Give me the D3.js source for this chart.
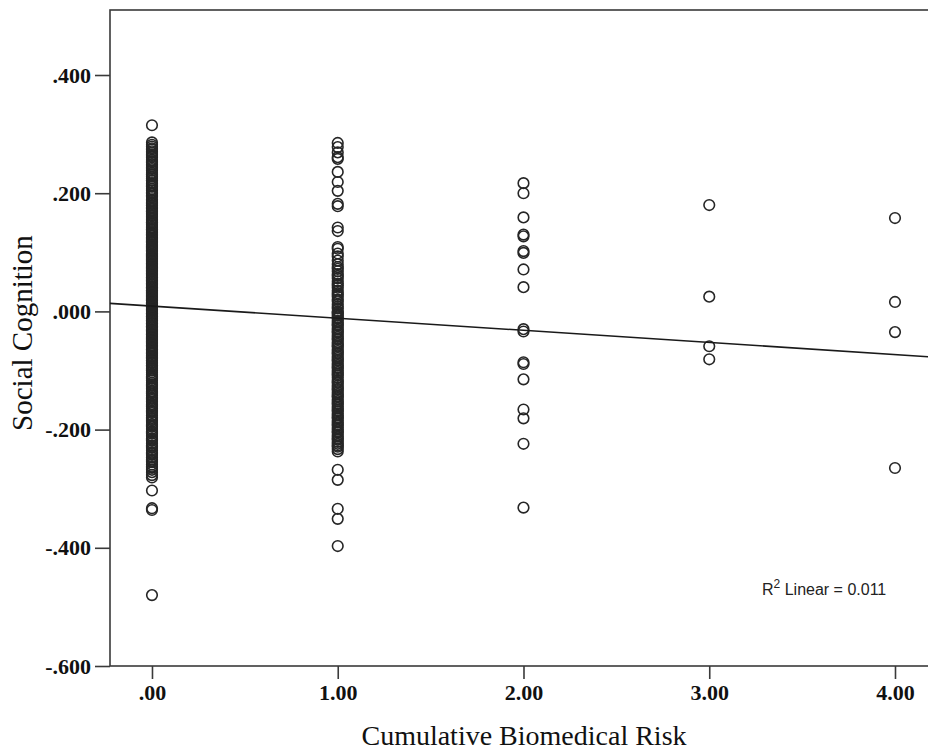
<!DOCTYPE html>
<html>
<head>
<meta charset="utf-8">
<script src="https://cdn.jsdelivr.net/npm/d3@7"></script>
<style>
  body { margin: 0; background: #fff; }
  #vis { width: 928px; height: 753px; overflow: hidden; }
</style>
</head>
<body>
<div id="vis"></div>
<script>
const width = 928;
const height = 753;

// risk groups on the x axis
const riskLevels = [0, 1, 2, 3, 4];

// social cognition scores
const risk0 = [0.315, 0.286, 0.282, 0.279, 0.274, 0.271, 0.268, 0.263, 0.261, 0.256, 0.252, 0.249, 0.246,
  0.241, 0.238, 0.234, 0.231, 0.228, 0.225, 0.221, 0.217, 0.214, 0.211, 0.207, 0.204, 0.201, 0.199, 0.196,
  0.189, 0.187, 0.184, 0.182, 0.179, 0.176, 0.174, 0.171, 0.169, 0.166, 0.163, 0.161, 0.156, 0.153, 0.151,
  0.148, 0.146, 0.143, 0.141, 0.138, 0.136, 0.133, 0.131, 0.128, 0.125, 0.123, 0.121, 0.118, 0.116, 0.113,
  0.110, 0.108, 0.106, 0.103, 0.101, 0.098, 0.096, 0.093, 0.091, 0.089, 0.086, 0.084, 0.081, 0.079, 0.077,
  0.074, 0.072, 0.069, 0.067, 0.065, 0.062, 0.060, 0.058, 0.055, 0.053, 0.051, 0.048, 0.046, 0.043, 0.041,
  0.039, 0.036, 0.034, 0.032, 0.029, 0.027, 0.025, 0.022, 0.020, 0.018, 0.015, 0.013, 0.011, 0.008, 0.006,
  0.004, 0.001, -0.001, -0.004, -0.006, -0.008, -0.011, -0.013, -0.016, -0.018, -0.020, -0.023, -0.025,
  -0.027, -0.030, -0.032, -0.035, -0.037, -0.039, -0.042, -0.044, -0.047, -0.049, -0.052, -0.054, -0.057,
  -0.059, -0.062, -0.064, -0.067, -0.069, -0.072, -0.075, -0.077, -0.080, -0.083, -0.086, -0.088, -0.091,
  -0.094, -0.097, -0.100, -0.103, -0.107, -0.110, -0.114, -0.117, -0.121, -0.124, -0.128, -0.131, -0.135,
  -0.139, -0.142, -0.146, -0.150, -0.153, -0.157, -0.161, -0.164, -0.168, -0.172, -0.176, -0.180, -0.184,
  -0.187, -0.191, -0.195, -0.199, -0.203, -0.207, -0.211, -0.215, -0.219, -0.223, -0.227, -0.231, -0.235,
  -0.239, -0.243, -0.247, -0.251, -0.255, -0.259, -0.263, -0.268, -0.272, -0.277, -0.281, -0.303, -0.333,
  -0.336, -0.480,
  0.194, 0.180, 0.168, 0.158, 0.150, 0.139, 0.130, 0.119, 0.111, 0.104, 0.095, 0.088, 0.082, 0.075, 0.070,
  0.064, 0.057, 0.052, 0.047, 0.040, 0.035, 0.030, 0.024, 0.019, 0.014, 0.009, 0.003, -0.003, -0.009,
  -0.015, -0.021, -0.026, -0.033, -0.040, -0.046, -0.051, -0.058, -0.065, -0.071, -0.078, -0.084, -0.092,
  -0.099, -0.112, -0.126, -0.137, -0.148, -0.159, -0.170, -0.182, -0.193, -0.205, -0.217, -0.229, -0.241,
  -0.253, -0.265, 0.276, 0.265, 0.254, 0.243, 0.232, 0.222, 0.212];
const risk1 = [0.285, 0.278, 0.269, 0.261, 0.258, 0.236, 0.219, 0.204, 0.182, 0.178, 0.142, 0.136, 0.109,
  0.106, 0.098, 0.093, 0.086, 0.080, 0.075, 0.068, 0.063, 0.056, 0.051, 0.047, 0.040, 0.035, 0.031, 0.025,
  0.020, 0.017, 0.012, 0.008, 0.005, 0.000, -0.004, -0.007, -0.012, -0.016, -0.019, -0.024, -0.028, -0.031,
  -0.036, -0.040, -0.043, -0.048, -0.052, -0.055, -0.060, -0.064, -0.067, -0.072, -0.076, -0.079, -0.084,
  -0.088, -0.091, -0.096, -0.100, -0.103, -0.108, -0.112, -0.116, -0.121, -0.125, -0.128, -0.133, -0.137,
  -0.140, -0.145, -0.149, -0.152, -0.157, -0.161, -0.164, -0.169, -0.173, -0.176, -0.181, -0.185, -0.188,
  -0.193, -0.197, -0.200, -0.205, -0.209, -0.212, -0.217, -0.221, -0.224, -0.229, -0.233, -0.237, -0.268,
  -0.285, -0.334, -0.351, -0.397,
  0.072, 0.060, 0.044, 0.028, -0.002, -0.010, -0.022, -0.034, -0.046, -0.058, -0.070, -0.082, -0.094,
  -0.106, -0.119, -0.131, -0.143, -0.155, -0.167, -0.179, -0.191, -0.203, -0.215, -0.227];
const risk2 = [0.217, 0.200, 0.159, 0.130, 0.127, 0.102, 0.099, 0.071, 0.041, -0.030, -0.034, -0.086,
  -0.089, -0.115, -0.166, -0.181, -0.224, -0.332];
const risk3 = [0.180, 0.025, -0.059, -0.081];
const risk4 = [0.158, 0.016, -0.035, -0.265];

const yTicks = [0.4, 0.2, 0, -0.2, -0.4, -0.6];

// fit line as printed by the chart
const fitIntercept = 0.009;
const fitSlope = -0.0205;
const rSquared = 0.011;

var groups = [risk0, risk1, risk2, risk3, risk4];
var points = [];
groups.forEach(function(vals, i) {
    vals.forEach(function(v) {
        points.push({ x: riskLevels[i], y: v });
    });
});

// plot frame (right edge runs past the window, as in the source)
var plotL = 110, plotT = 10, plotR = 938, plotB = 666;

var x = d3.scaleLinear().domain([-0.226, 4.2315]).range([plotL, plotR]);
var y = d3.scaleLinear().domain([-0.6, 0.51]).range([plotB, plotT]);

var svg = d3
.select("#vis")
.append("svg")
.attr("width", width)
.attr("height", height);

// SPSS style: no leading zero, plain hyphen
var spss = function(d, n) { return d.toFixed(n).replace(/^(-?)0\./, "$1."); };

svg.append("rect")
.attr("x", plotL)
.attr("y", plotT)
.attr("width", plotR - plotL)
.attr("height", plotB - plotT)
.attr("fill", "none")
.attr("stroke", "#3a3a3a")
.attr("stroke-width", 1.6);

var yAxis = svg.append("g")
.attr("transform", "translate(" + plotL + ",0)")
.call(d3.axisLeft(y).tickValues(yTicks).tickSize(15).tickPadding(4)
    .tickFormat(function(d) { return spss(d, 3); }));

var xAxis = svg.append("g")
.attr("transform", "translate(0," + plotB + ")")
.call(d3.axisBottom(x).tickValues(riskLevels).tickSize(13).tickPadding(5)
    .tickFormat(function(d) { return spss(d, 2); }));

[yAxis, xAxis].forEach(function(ax) {
    ax.select(".domain").remove();
    ax.selectAll("line").attr("stroke", "#3a3a3a").attr("stroke-width", 1.6);
    ax.selectAll("text")
    .attr("fill", "#111")
    .style("font-family", "'Liberation Serif', 'Times New Roman', serif")
    .style("font-size", "22px")
    .style("font-weight", "bold");
});

svg.append("g")
.selectAll("circle")
.data(points)
.enter()
.append("circle")
.attr("cx", function(d) { return x(d.x); })
.attr("cy", function(d) { return y(d.y); })
.attr("r", 5.3)
.attr("fill", "none")
.attr("stroke", "#262626")
.attr("stroke-width", 1.6);

var xd = x.domain();
svg.append("line")
.attr("x1", x(xd[0]))
.attr("y1", y(fitIntercept + fitSlope * xd[0]))
.attr("x2", x(xd[1]))
.attr("y2", y(fitIntercept + fitSlope * xd[1]))
.attr("stroke", "#1a1a1a")
.attr("stroke-width", 1.6);

var r2 = svg.append("text")
.attr("x", 762)
.attr("y", 595)
.attr("fill", "#222")
.style("font-family", "'Liberation Sans', Arial, sans-serif")
.style("font-size", "16px");
r2.append("tspan").text("R");
r2.append("tspan").attr("dy", -7).style("font-size", "12px").text("2");
r2.append("tspan").attr("dy", 7).text(" Linear = " + rSquared.toFixed(3));

svg.append("text")
.attr("x", (plotL + plotR) / 2)
.attr("y", 745)
.attr("text-anchor", "middle")
.attr("fill", "#111")
.style("font-family", "'Liberation Serif', 'Times New Roman', serif")
.style("font-size", "28px")
.text("Cumulative Biomedical Risk");

svg.append("text")
.attr("transform", "translate(32,333) rotate(-90)")
.attr("text-anchor", "middle")
.attr("fill", "#111")
.style("font-family", "'Liberation Serif', 'Times New Roman', serif")
.style("font-size", "29px")
.text("Social Cognition");
</script>
</body>
</html>
